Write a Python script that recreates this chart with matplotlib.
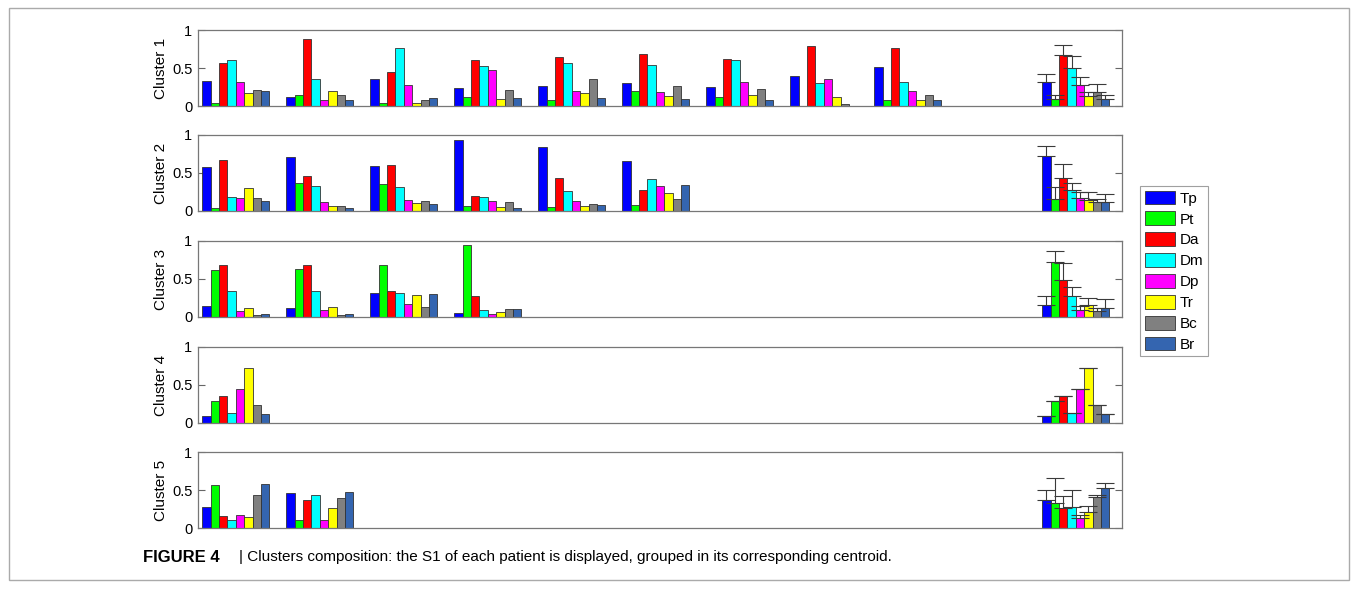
import numpy as np
import matplotlib.pyplot as plt
from matplotlib.patches import Patch, Rectangle

plt.rcParams['font.family'] = ['Liberation Sans', 'DejaVu Sans']

features = ['Tp', 'Pt', 'Da', 'Dm', 'Dp', 'Tr', 'Bc', 'Br']
colors = ['#0000ff', '#00ff00', '#ff0000', '#00ffff', '#ff00ff', '#ffff00',
          '#808080', '#3465b0']

# S1 of each patient (rows: patients, columns: features)
cluster1 = [
    [0.33, 0.035, 0.57, 0.60, 0.32, 0.175, 0.21, 0.20],
    [0.114, 0.145, 0.88, 0.36, 0.08, 0.20, 0.15, 0.075],
    [0.355, 0.035, 0.45, 0.76, 0.28, 0.045, 0.08, 0.10],
    [0.24, 0.114, 0.61, 0.52, 0.48, 0.09, 0.21, 0.10],
    [0.26, 0.075, 0.64, 0.56, 0.20, 0.175, 0.36, 0.10],
    [0.30, 0.20, 0.69, 0.535, 0.19, 0.13, 0.26, 0.09],
    [0.25, 0.12, 0.62, 0.60, 0.32, 0.15, 0.23, 0.075],
    [0.39, 0.0, 0.79, 0.30, 0.355, 0.114, 0.026, 0.0],
    [0.51, 0.08, 0.76, 0.32, 0.20, 0.08, 0.14, 0.08],
]
cluster2 = [
    [0.58, 0.035, 0.675, 0.19, 0.17, 0.30, 0.17, 0.13],
    [0.71, 0.37, 0.46, 0.33, 0.114, 0.066, 0.066, 0.044],
    [0.59, 0.35, 0.605, 0.31, 0.14, 0.11, 0.13, 0.088],
    [0.94, 0.06, 0.20, 0.18, 0.13, 0.05, 0.114, 0.04],
    [0.84, 0.05, 0.44, 0.26, 0.136, 0.06, 0.09, 0.08],
    [0.66, 0.08, 0.27, 0.42, 0.325, 0.24, 0.155, 0.34],
]
cluster3 = [
    [0.145, 0.625, 0.68, 0.34, 0.075, 0.12, 0.03, 0.04],
    [0.115, 0.635, 0.68, 0.34, 0.088, 0.137, 0.03, 0.04],
    [0.32, 0.68, 0.34, 0.31, 0.17, 0.295, 0.128, 0.30],
    [0.053, 0.95, 0.27, 0.097, 0.04, 0.066, 0.11, 0.11],
]
cluster4 = [
    [0.09, 0.285, 0.35, 0.137, 0.445, 0.72, 0.24, 0.12],
]
cluster5 = [
    [0.27, 0.56, 0.16, 0.11, 0.165, 0.15, 0.43, 0.575],
    [0.46, 0.10, 0.37, 0.43, 0.10, 0.26, 0.395, 0.47],
]

# centroid (mean) and spread of each cluster
centroid1 = [0.31, 0.09, 0.67, 0.50, 0.27, 0.13, 0.185, 0.09]
spread1 = [0.11, 0.06, 0.13, 0.155, 0.115, 0.05, 0.10, 0.05]
centroid2 = [0.72, 0.16, 0.44, 0.28, 0.17, 0.14, 0.12, 0.12]
spread2 = [0.14, 0.16, 0.18, 0.09, 0.08, 0.105, 0.04, 0.11]
centroid3 = [0.16, 0.72, 0.49, 0.27, 0.093, 0.155, 0.075, 0.12]
spread3 = [0.11, 0.155, 0.22, 0.12, 0.055, 0.10, 0.05, 0.12]
centroid4 = [0.09, 0.285, 0.35, 0.137, 0.445, 0.72, 0.24, 0.12]
spread4 = [0, 0, 0, 0, 0, 0, 0, 0]
centroid5 = [0.365, 0.33, 0.265, 0.27, 0.13, 0.205, 0.41, 0.52]
spread5 = [0.13, 0.33, 0.15, 0.23, 0.045, 0.08, 0.025, 0.075]

clusters = [cluster1, cluster2, cluster3, cluster4, cluster5]
centroids = [centroid1, centroid2, centroid3, centroid4, centroid5]
spreads = [spread1, spread2, spread3, spread4, spread5]
labels = ['Cluster 1', 'Cluster 2', 'Cluster 3', 'Cluster 4', 'Cluster 5']

W, H = 1358, 598
fig = plt.figure(figsize=(W / 100, H / 100), dpi=100)

# axes boxes in pixels (top, bottom)
boxes = [(30, 106), (135, 211), (241, 317), (347, 423), (452, 528)]
ax_left, ax_right = 198, 1122
centroid_pos = 11
bw = 0.1
offsets = (np.arange(8) - 3.5) * bw

for k in range(5):
    top, bot = boxes[k]
    ax = fig.add_axes([ax_left / W, 1 - bot / H, (ax_right - ax_left) / W, (bot - top) / H])
    data = np.array(clusters[k])
    n = data.shape[0]
    groups = np.arange(1, n + 1)
    for j in range(8):
        ax.bar(groups + offsets[j], data[:, j], bw, color=colors[j],
               edgecolor='#333333', linewidth=0.6, zorder=2)
        ax.bar(centroid_pos + offsets[j], centroids[k][j], bw, color=colors[j],
               edgecolor='#333333', linewidth=0.6, zorder=2)
    ax.errorbar(centroid_pos + offsets, centroids[k],
                yerr=[np.zeros(8), spreads[k]], fmt='none', ecolor='#3a3a3a',
                elinewidth=0.8, capsize=6.5, capthick=0.8, zorder=3)

    ax.set_xlim(0.55, 11.55)
    ax.set_ylim(0, 1)
    ax.set_yticks([0, 0.5, 1])
    ax.set_yticklabels(['0', '0.5', '1'])
    ax.set_xticks([])
    ax.tick_params(axis='y', direction='in', length=5, width=0.8, color='#666666',
                   right=True, labelsize=10.5, pad=4)
    for s in ax.spines.values():
        s.set_color('#777777')
        s.set_linewidth(0.9)
    ax.set_ylabel(labels[k], fontsize=11, labelpad=3)

handles = [Patch(facecolor=c, edgecolor='#333333', linewidth=0.6) for c in colors]
leg = fig.legend(handles, features, loc='upper left',
                 bbox_to_anchor=(1140 / W, 1 - 186 / H), fontsize=11,
                 frameon=True, fancybox=False, edgecolor='#888888',
                 handlelength=2.0, handleheight=1.0, handletextpad=0.3,
                 labelspacing=0.38, borderpad=0.3, borderaxespad=0)
leg.get_frame().set_linewidth(0.8)

# outer frame with caption
fig.patches.append(Rectangle((9 / W, 1 - 580 / H), (1349 - 9) / W, (580 - 8) / H,
                             transform=fig.transFigure, fill=False,
                             edgecolor='#aaaaaa', linewidth=1.0))
fig.text(143 / W, 1 - 557 / H, 'FIGURE 4', fontsize=12, fontweight='bold',
         va='center')
fig.text(239 / W, 1 - 557 / H,
         '| Clusters composition: the S1 of each patient is displayed, grouped in its corresponding centroid.',
         fontsize=11, va='center')

fig.savefig('out.png', dpi=100)
